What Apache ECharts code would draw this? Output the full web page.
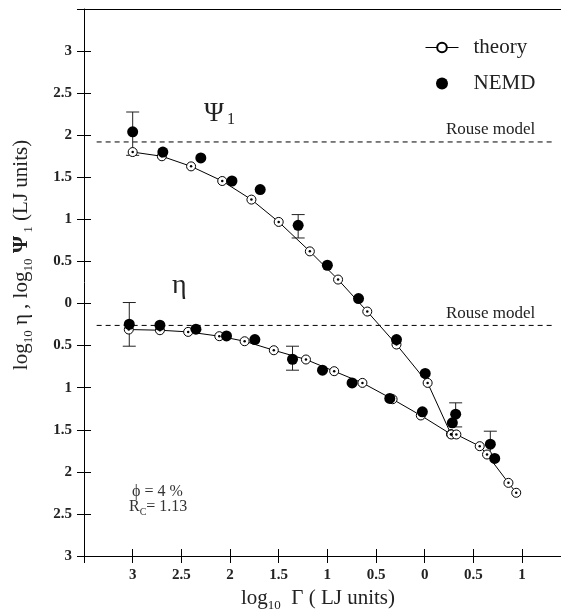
<!DOCTYPE html>
<html>
<head>
<meta charset="utf-8">
<script src="https://cdn.jsdelivr.net/npm/echarts@6/dist/echarts.min.js"></script>
<style>
html,body{margin:0;padding:0;background:#fff;}
#chart{width:561px;height:614px;}
</style>
</head>
<body>
<div id="chart"></div>
<script>
// ---- data (log10 units) ----
const psiTheoryX = [-3.00, -2.70, -2.40, -2.08, -1.78, -1.50, -1.18, -0.89, -0.59, -0.29, 0.03, 0.27];
const psiTheoryY = [1.80, 1.75, 1.63, 1.456, 1.235, 0.97, 0.62, 0.285, -0.095, -0.487, -0.943, -1.552];
const etaTheoryX = [-3.04, -2.72, -2.43, -2.11, -1.85, -1.55, -1.22, -0.93, -0.64, -0.33, -0.04, 0.274, 0.325, 0.565, 0.64, 0.86, 0.94];
const etaTheoryY = [-0.309, -0.317, -0.337, -0.388, -0.448, -0.555, -0.665, -0.804, -0.943, -1.137, -1.33, -1.556, -1.556, -1.695, -1.794, -2.131, -2.249];
const psiNemdX = [-3.00, -2.69, -2.30, -1.98, -1.69, -1.30, -1.00, -0.68, -0.29, 0.005, 0.318];
const psiNemdY = [2.04, 1.80, 1.73, 1.456, 1.354, 0.93, 0.455, 0.059, -0.428, -0.831, -1.315];
const etaNemdX = [-3.035, -2.72, -2.35, -2.036, -1.745, -1.358, -1.05, -0.746, -0.359, -0.024, 0.284, 0.674, 0.719];
const etaNemdY = [-0.246, -0.258, -0.305, -0.385, -0.428, -0.662, -0.792, -0.943, -1.128, -1.287, -1.418, -1.671, -1.841];
// error bars: x, low, high
const errX = [-3.00, -1.30, 0.318, -3.035, -1.358, 0.674];
const errLow = [1.761, 0.779, -1.466, -0.507, -0.792, -1.825];
const errHigh = [2.276, 1.057, -1.18, 0.012, -0.507, -1.517];
// Rouse model reference levels
const rouseY = [1.92, -0.26];
const rouseXRange = [-3.37, 1.32];
// tick labels
const xTicks = [-3, -2.5, -2, -1.5, -1, -0.5, 0, 0.5, 1];
const xTickLabels = ['3', '2.5', '2', '1.5', '1', '0.5', '0', '0.5', '1'];
const yTicks = [3, 2.5, 2, 1.5, 1, 0.5, 0, -0.5, -1, -1.5, -2, -2.5, -3];
const yTickLabels = ['3', '2.5', '2', '1.5', '1', '0.5', '0', '0.5', '1', '1.5', '2', '2.5', '3'];

const zip = (a, b) => a.map((v, i) => [v, b[i]]);
const labelFor = (ticks, labels) => (v) => {
  const i = ticks.findIndex(t => Math.abs(t - v) < 1e-6);
  return i < 0 ? '' : labels[i];
};

const serif = '"Liberation Serif", "DejaVu Serif", serif';
const chart = echarts.init(document.getElementById('chart'));

const theoryStyle = {
  type: 'line', name: 'theory', symbol: 'circle', symbolSize: 9, showSymbol: true,
  lineStyle: { color: '#000', width: 1 },
  itemStyle: { color: '#fff', borderColor: '#000', borderWidth: 1, opacity: 1 },
  z: 3, animation: false, silent: true
};
const nemdStyle = {
  type: 'scatter', name: 'NEMD', symbol: 'circle', symbolSize: 11,
  itemStyle: { color: '#000', opacity: 1 }, z: 5, animation: false, silent: true
};

const rouseSeries = rouseY.map(y => ({
  type: 'line', data: [[rouseXRange[0], y], [rouseXRange[1], y]],
  symbol: 'none', lineStyle: { color: '#000', width: 1, type: [5, 4] },
  z: 1, animation: false, silent: true
}));

const subStyle = { fontSize: 13, fontFamily: serif, verticalAlign: 'top', padding: [12, 0, 0, 0], fill: '#222' };
const mainStyle = { fontSize: 21, fontFamily: serif, verticalAlign: 'top', fill: '#222' };

chart.setOption({
  animation: false,
  backgroundColor: '#fff',
  grid: { left: 84, right: 0, top: 9, bottom: 58, containLabel: false },
  legend: {
    data: ['theory', 'NEMD'], orient: 'vertical', left: 420, top: 32,
    itemWidth: 33, itemHeight: 12, itemGap: 15,
    lineStyle: { width: 1 },
    textStyle: { fontFamily: serif, fontSize: 21, color: '#222', padding: [0, 0, 0, 10] },
    selectedMode: false
  },
  xAxis: [
    {
      type: 'value', min: -3.5, max: 1.4, interval: 0.5, position: 'bottom',
      axisLine: { show: true, onZero: false, lineStyle: { color: '#000', width: 1 } },
      axisTick: { show: true, length: 7, lineStyle: { color: '#000' } },
      axisLabel: { formatter: labelFor(xTicks, xTickLabels), margin: 12, color: '#222',
        fontFamily: serif, fontWeight: 'bold', fontSize: 15, showMaxLabel: false },
      splitLine: { show: false }
    },
    {
      type: 'value', min: -3.5, max: 1.4, interval: 0.5, position: 'bottom',
      axisLine: { show: false, onZero: false },
      axisTick: { show: true, inside: true, length: 7, lineStyle: { color: '#000' } },
      axisLabel: { show: false }, splitLine: { show: false }
    },
    {
      type: 'value', min: -3.5, max: 1.4, position: 'top',
      axisLine: { show: true, onZero: false, lineStyle: { color: '#000', width: 1 } },
      axisTick: { show: false }, axisLabel: { show: false }, splitLine: { show: false }
    }
  ],
  yAxis: [
    {
      type: 'value', min: -3, max: 3.5, interval: 0.5, position: 'left',
      axisLine: { show: true, onZero: false, lineStyle: { color: '#000', width: 1 } },
      axisTick: { show: true, length: 7, lineStyle: { color: '#000' } },
      axisLabel: { formatter: labelFor(yTicks, yTickLabels), margin: 12, color: '#222',
        fontFamily: serif, fontWeight: 'bold', fontSize: 15 },
      splitLine: { show: false }
    },
    {
      type: 'value', min: -3, max: 3.5, interval: 0.5, position: 'left',
      axisLine: { show: false, onZero: false },
      axisTick: { show: true, inside: true, length: 7, lineStyle: { color: '#000' } },
      axisLabel: { show: false }, splitLine: { show: false }
    }
  ],
  series: [
    ...rouseSeries,
    {
      type: 'custom', z: 2, silent: true, animation: false,
      data: errX.map((x, i) => [x, errLow[i], errHigh[i]]),
      renderItem: (params, api) => {
        const top = api.coord([api.value(0), api.value(2)]);
        const bot = api.coord([api.value(0), api.value(1)]);
        const w = 6.5;
        const st = { stroke: '#222', lineWidth: 1 };
        return { type: 'group', children: [
          { type: 'line', shape: { x1: top[0], y1: top[1], x2: bot[0], y2: bot[1] }, style: st },
          { type: 'line', shape: { x1: top[0] - w, y1: top[1], x2: top[0] + w, y2: top[1] }, style: st },
          { type: 'line', shape: { x1: bot[0] - w, y1: bot[1], x2: bot[0] + w, y2: bot[1] }, style: st }
        ]};
      }
    },
    Object.assign({}, theoryStyle, { data: zip(psiTheoryX, psiTheoryY) }),
    Object.assign({}, theoryStyle, { data: zip(etaTheoryX, etaTheoryY) }),
    {
      type: 'scatter', symbol: 'circle', symbolSize: 2.5, itemStyle: { color: '#000', opacity: 1 }, z: 4,
      silent: true, animation: false,
      data: zip(psiTheoryX, psiTheoryY).concat(zip(etaTheoryX, etaTheoryY))
    },
    Object.assign({}, nemdStyle, { data: zip(psiNemdX, psiNemdY) }),
    Object.assign({}, nemdStyle, { data: zip(etaNemdX, etaNemdY) })
  ],
  graphic: [
    { type: 'text', left: 446, top: 121, style: { text: 'Rouse model', fontFamily: serif, fontSize: 17, fill: '#222' } },
    { type: 'text', left: 446, top: 305, style: { text: 'Rouse model', fontFamily: serif, fontSize: 17, fill: '#222' } },
    { type: 'text', x: 204, y: 100, style: {
      text: '{a|Ψ}{s|1}', rich: {
        a: { fontSize: 27, fontFamily: serif, verticalAlign: 'top', fill: '#222' },
        s: { fontSize: 16, fontFamily: serif, verticalAlign: 'top', padding: [12, 0, 0, 3], fill: '#222' }
      } } },
    { type: 'text', x: 172, y: 272, style: { text: 'η', fontFamily: serif, fontSize: 28, fill: '#222' } },
    { type: 'text', x: 132, y: 484, style: { text: 'ϕ = 4 %', fontFamily: serif, fontSize: 16, fill: '#333' } },
    { type: 'text', x: 129, y: 499, style: {
      text: '{a|R}{s|C}{a|= 1.13}', rich: {
        a: { fontSize: 16, fontFamily: serif, verticalAlign: 'top', fill: '#333' },
        s: { fontSize: 10, fontFamily: serif, verticalAlign: 'top', padding: [8, 0, 0, 0], fill: '#333' }
      } } },
    { type: 'text', x: 318, y: 600, style: {
      text: '{a|log}{s|10}{a|  Γ ( LJ units)}', align: 'center', verticalAlign: 'middle',
      rich: { a: mainStyle, s: subStyle } } },
    { type: 'text', x: 23, y: 255, rotation: Math.PI / 2, style: {
      text: '{a|log}{s|10}{a| η , log}{s|10}{p| Ψ}{s| 1}{a| (LJ units)}', align: 'center', verticalAlign: 'middle',
      rich: { a: mainStyle, s: subStyle,
        p: { fontSize: 22, fontFamily: serif, fontWeight: 'bold', verticalAlign: 'top', fill: '#222' } } } }
  ]
});
</script>
</body>
</html>
